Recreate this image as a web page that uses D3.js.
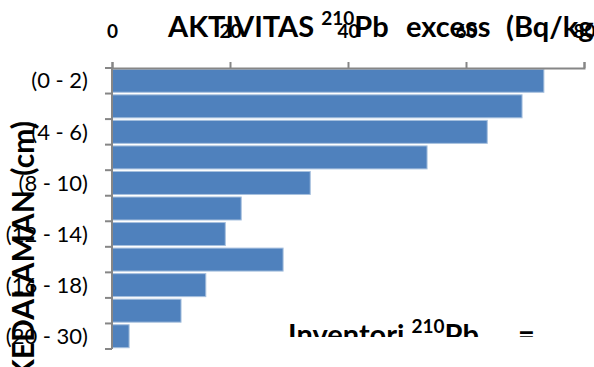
<!DOCTYPE html>
<html>
<head>
<meta charset="utf-8">
<script src="https://cdn.jsdelivr.net/npm/d3@7"></script>
<style>
  body { margin: 0; background: #fff; }
  svg { display: block; font-family: Lato, "Open Sans", sans-serif; }
  text { white-space: pre; }
</style>
</head>
<body>
<div id="chart"></div>
<script>
// depth intervals (cm), top to bottom
const depths = ["(0 - 2)", "(2 - 4)", "(4 - 6)", "(6 - 8)", "(8 - 10)", "(10 - 12)",
                "(12 - 14)", "(14 - 16)", "(16 - 18)", "(18 - 20)", "(20 - 30)"];
// excess 210Pb activity (Bq/kg)
const activity = [73.2, 69.5, 63.6, 53.4, 33.6, 21.9, 19.2, 29.0, 15.9, 11.7, 2.9];
const xTicks = [0, 20, 40, 60, 80];

const width = 594, height = 367;
const margin = {top: 68, left: 112, right: 10, bottom: 18};

const svg = d3.select("#chart").append("svg")
  .attr("width", width)
  .attr("height", height);

const x = d3.scaleLinear().domain([0, 80]).range([margin.left, 584]);
const y = d3.scaleBand().domain(depths).range([margin.top, 349]).paddingInner(0.1).paddingOuter(0.05);

// bars
svg.append("g").selectAll("rect")
  .data(depths)
  .enter()
  .append("rect")
    .attr("x", x(0))
    .attr("y", d => y(d))
    .attr("width", (d, i) => x(activity[i]) - x(0))
    .attr("height", y.bandwidth())
    .style("fill", "#4f81bd")
    .style("stroke", "#a7c0de")
    .style("stroke-width", 1);

const axisColor = "#868686";

// top axis
const xAxis = svg.append("g")
  .attr("transform", `translate(0,${margin.top})`)
  .call(d3.axisTop(x).tickValues(xTicks).tickSize(6).tickPadding(24).tickFormat(d3.format("d")));
xAxis.select(".domain").attr("stroke", axisColor).attr("stroke-width", 2);
xAxis.selectAll(".tick line").attr("stroke", axisColor).attr("stroke-width", 2);
xAxis.selectAll(".tick text")
  .style("font-size", "19px").style("font-weight", "bold").attr("fill", "#000")
  .style("font-family", "Lato, sans-serif");

// left axis: tick marks on band boundaries
const yLeft = svg.append("g");
yLeft.append("line")
  .attr("x1", x(0)).attr("x2", x(0))
  .attr("y1", margin.top).attr("y2", 349)
  .attr("stroke", axisColor).attr("stroke-width", 2);
const bounds = d3.range(depths.length + 1).map(i => margin.top + i * (349 - margin.top) / depths.length);
yLeft.selectAll(".bt")
  .data(bounds)
  .enter()
  .append("line")
    .attr("x1", x(0) - 7).attr("x2", x(0))
    .attr("y1", d => d).attr("y2", d => d)
    .attr("stroke", axisColor).attr("stroke-width", 2);

// category labels, every other one
svg.append("g").selectAll("text")
  .data(depths.filter((d, i) => i % 2 === 0))
  .enter()
  .append("text")
    .attr("x", 88)
    .attr("y", d => y(d) + y.bandwidth() / 2)
    .attr("dy", "0.35em")
    .attr("text-anchor", "end")
    .style("font-size", "22px")
    .text(d => d);

// chart title (drawn over tick labels, like the original)
const title = svg.append("text")
  .attr("x", 168).attr("y", 37)
  .style("font-size", "29px").style("font-weight", "bold");
title.append("tspan").text("AKTIVITAS ");
title.append("tspan").attr("dy", -12).style("font-size", "19px").text("210");
title.append("tspan").attr("dy", 12).text("Pb");
title.append("tspan").attr("x", 406).text("excess");
title.append("tspan").attr("x", 506).text("(Bq/kg)");

// y axis title
svg.append("text")
  .attr("transform", "translate(34,121) rotate(-90)")
  .attr("text-anchor", "end")
  .style("font-size", "30px").style("font-weight", "bold")
  .text("KEDALAMAN  (cm)");

// inventory note, clipped at the bottom
svg.append("clipPath").attr("id", "invclip")
  .append("rect").attr("x", 0).attr("y", 0).attr("width", width).attr("height", 337);
const inv = svg.append("text")
  .attr("clip-path", "url(#invclip)")
  .attr("x", 288).attr("y", 345)
  .style("font-size", "29px").style("font-weight", "bold");
inv.append("tspan").text("Inventori ");
inv.append("tspan").attr("dy", -12).style("font-size", "19px").text("210");
inv.append("tspan").attr("dy", 12).text("Pb");
inv.append("tspan").attr("x", 518).text("=");
</script>
</body>
</html>
